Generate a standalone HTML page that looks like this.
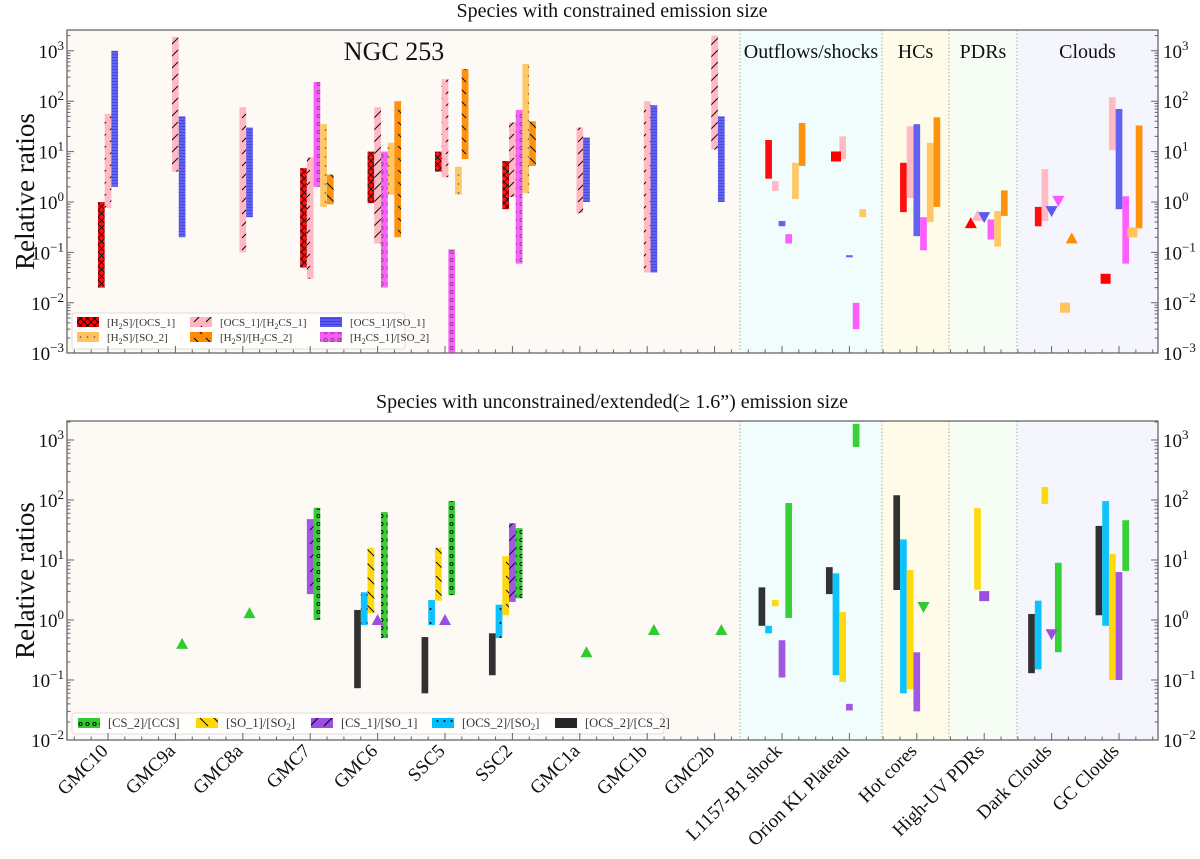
<!DOCTYPE html>
<html><head><meta charset="utf-8"><style>
html,body{margin:0;padding:0;background:#fff;}
svg{display:block;font-family:"Liberation Serif",serif;}
</style></head><body>
<svg id="chart" width="1200" height="859" viewBox="0 0 1200 859" xmlns="http://www.w3.org/2000/svg">
<defs>
<pattern id="p-red" patternUnits="userSpaceOnUse" width="7" height="7"><rect width="7" height="7" fill="#ff0000"/><path d="M0,0L7,7M7,0L0,7" stroke="#000" stroke-width="0.8"/></pattern>
<pattern id="p-pink" patternUnits="userSpaceOnUse" width="12" height="12"><rect width="12" height="12" fill="#ffb6c1"/><path d="M2,10L10,2" stroke="#000" stroke-width="1"/></pattern>
<pattern id="p-blue" patternUnits="userSpaceOnUse" width="4" height="3"><rect width="4" height="3" fill="#5a5af0"/><path d="M0,0.5H4" stroke="#3a3ad0" stroke-width="0.8"/></pattern>
<pattern id="p-mag" patternUnits="userSpaceOnUse" width="7" height="8"><rect width="7" height="8" fill="#ff55ff"/><circle cx="3.5" cy="4" r="1.6" fill="none" stroke="#555" stroke-width="0.8"/></pattern>
<pattern id="p-lo" patternUnits="userSpaceOnUse" width="7" height="9"><rect width="7" height="9" fill="#ffc45e"/><circle cx="3.5" cy="4" r="0.9" fill="#666"/></pattern>
<pattern id="p-or" patternUnits="userSpaceOnUse" width="12" height="12"><rect width="12" height="12" fill="#ff8c00"/><path d="M2,2L10,10" stroke="#000" stroke-width="1"/></pattern>
<pattern id="p-green" patternUnits="userSpaceOnUse" width="7" height="8"><rect width="7" height="8" fill="#2ecc2e"/><circle cx="3.5" cy="4" r="1.6" fill="none" stroke="#000" stroke-width="0.9"/></pattern>
<pattern id="p-yel" patternUnits="userSpaceOnUse" width="14" height="14"><rect width="14" height="14" fill="#ffd700"/><path d="M2,2L12,12" stroke="#000" stroke-width="1"/></pattern>
<pattern id="p-pur" patternUnits="userSpaceOnUse" width="14" height="14"><rect width="14" height="14" fill="#9b4fe0"/><path d="M2,12L12,2" stroke="#000" stroke-width="1"/></pattern>
<pattern id="p-cy" patternUnits="userSpaceOnUse" width="7" height="14"><rect width="7" height="14" fill="#00bfff"/><circle cx="3.5" cy="7" r="1" fill="#000"/></pattern>
</defs>
<g id="root"></g>
</svg>
<script>
const categories = ["GMC10","GMC9a","GMC8a","GMC7","GMC6","SSC5","SSC2","GMC1a","GMC1b","GMC2b","L1157-B1 shock","Orion KL Plateau","Hot cores","High-UV PDRs","Dark Clouds","GC Clouds"];
const N = null;
const h2sOcsLo  = [0.02,N,N,0.05,0.95,4,0.72,N,N,N,2.9,N,0.63,N,0.33,N];
const h2sOcsHi  = [1.0,N,N,4.7,10,10,6.5,N,N,N,17,N,6,N,0.8,N];
const ocsH2csLo = [0.76,4,0.1,0.03,0.15,3.1,1.25,0.6,0.04,11,1.65,7,1.2,N,0.42,10.7];
const ocsH2csHi = [56,1900,76,7.8,76,275,38,30,100,2000,2.6,20,32,N,4.5,120];
const ocsSoLo   = [2,0.2,0.5,N,N,N,N,1.0,0.04,1,0.33,0.08,0.21,N,N,0.72];
const ocsSoHi   = [1000,50,30,N,N,N,N,19,83,50,0.42,0.088,35,N,N,70];
const h2csSoLo  = [N,N,N,2,0.02,0.001,0.06,N,N,N,0.15,0.003,0.11,0.18,N,0.06];
const h2csSoHi  = [N,N,N,240,10,0.115,67,N,N,N,0.23,0.01,0.5,0.45,N,1.3];
const h2sSoLo   = [N,N,N,0.8,1.4,1.4,1.5,N,N,N,1.15,0.5,0.4,0.13,N,N];
const h2sSoHi   = [N,N,N,35,15,5,550,N,N,N,6,0.72,15,0.66,N,N];
const h2sH2csLo = [N,N,N,0.9,0.2,7.1,5.2,N,N,N,5.2,N,0.8,0.53,N,0.3];
const h2sH2csHi = [N,N,N,3.5,100,435,40,N,N,N,37,N,48,1.7,N,33];
const topMarkers = [["red",11,8,"sq"],["red",13,0.38,"up"],["pink",13,0.53,"up"],["blue",13,0.5,"down"],["blue",14,0.66,"down"],["mag",14,1.05,"down"],["or",14,0.19,"up"],["lo",14,0.008,"sq"],["red",15,0.03,"sq"],["lo",15,0.25,"sq"]];
const cs2CcsLo  = [N,N,N,1.0,0.5,2.6,2.3,N,N,N,1.08,765,N,N,0.29,6.6];
const cs2CcsHi  = [N,N,N,74,63,96,34,N,N,N,89,1860,N,N,9,46];
const so1So2Lo  = [N,N,N,N,1.3,2.1,1.2,N,N,N,1.7,0.093,0.07,3.2,86,0.1];
const so1So2Hi  = [N,N,N,N,16,16,11.6,N,N,N,2.15,1.36,6.8,73,165,12.6];
const cs1So1Lo  = [N,N,N,2.7,N,N,2.0,N,N,N,0.11,0.031,0.03,N,N,0.1];
const cs1So1Hi  = [N,N,N,48,N,N,41,N,N,N,0.46,0.04,0.29,N,N,6.3];
const ocs2So2Lo = [N,N,N,N,0.82,0.82,0.5,N,N,N,0.6,0.12,0.06,N,0.15,0.8];
const ocs2So2Hi = [N,N,N,N,2.9,2.15,1.8,N,N,N,0.8,6,22,N,2.1,96];
const ocs2Cs2Lo = [N,N,N,N,0.073,0.06,0.12,N,N,N,0.8,2.7,3.16,N,0.13,1.2];
const ocs2Cs2Hi = [N,N,N,N,1.47,0.52,0.6,N,N,N,3.5,7.6,120,N,1.26,37];
const botMarkers = [["green",1,0.4,"up"],["green",2,1.3,"up"],["green",7,0.29,"up"],["green",8,0.68,"up"],["green",9,0.68,"up"],["pur",4,1.0,"up"],["pur",5,1.0,"up"],["green",12,1.65,"down"],["pur",13,2.5,"sq"],["pur",14,0.58,"down"]];

const NS="http://www.w3.org/2000/svg";
const root=document.getElementById('root');
function mk(tag,attrs,parent){const e=document.createElementNS(NS,tag);for(const k in attrs)e.setAttribute(k,attrs[k]);(parent||root).appendChild(e);return e;}
const X0=67,X1=1158,W=6.7;
function xCat(i){return 108+67.4*i;}
const topP={y0:30,y1:353,yOne:202,dec:50.4};
const botP={y0:421,y1:740,yOne:620,dec:60};
function yv(p,v){return p.yOne-p.dec*Math.log10(v);}
const regions=[["NGC 253",X0,740,"#fdfaf6"],["Outflows/shocks",740,882,"#f1fdfd"],["HCs",882,949,"#fefce9"],["PDRs",949,1017,"#f5fdf4"],["Clouds",1017,X1,"#f5f5fd"]];
const topColors={red:"#ff0000",pink:"#ffb6c1",blue:"#5a5af0",mag:"#ff55ff",lo:"#ffc45e",or:"#ff8c00"};
const botColors={green:"#2ecc2e",yel:"#ffd700",pur:"#9b4fe0",cy:"#00bfff",blk:"#262626"};
const pat={red:"p-red",pink:"p-pink",blue:"p-blue",mag:"p-mag",lo:"p-lo",or:"p-or",green:"p-green",yel:"p-yel",pur:"p-pur",cy:"p-cy",blk:null};
const slotNGC={red:-1.5,pink:-0.5,blue:0.5,mag:0.5,lo:1.5,or:2.5};
const slotCmp={red:-2.5,pink:-1.5,blue:-0.5,mag:0.5,lo:1.5,or:2.5};
const slotBot={blk:-3.5,cy:-2.5,yel:-1.5,pur:-0.5,green:0.5};

function supText(parent,x,y,exp,anchor,name){
  const t=mk('text',{x:x,y:y,'font-size':19,'text-anchor':anchor,fill:'#111'},parent);
  
  
  t.appendChild(document.createTextNode('10'));
  const s=mk('tspan',{dy:-8,'font-size':13},t);s.textContent=exp;
  return t;
}

function drawPanel(p,key,title,labels){
  const g=mk('g',{});
  
  
  regions.forEach((r,i)=>{
    const rc=mk('rect',{x:r[1],y:p.y0,width:r[2]-r[1],height:p.y1-p.y0,fill:r[3]},g);
    
    
    if(i>0){const ln=mk('line',{x1:r[1],x2:r[1],y1:p.y0,y2:p.y1,stroke:'#aaa','stroke-dasharray':'1.5,2','stroke-width':1},g);
      
      }
    if(labels){
      const cx=i==0?394:(r[1]+r[2])/2;
      const t=mk('text',{x:cx,y:i==0?60:58,'font-size':i==0?26:20,'text-anchor':'middle',fill:'#111'},g);
      t.textContent=r[0];
      
      
    }
  });
  const tt=mk('text',{x:612,y:p.y0-13,'font-size':20,'text-anchor':'middle',fill:'#111'},g);
  tt.textContent=title;
  
  
  return g;
}

function drawAxes(p,key,decs,showX){
  const g=mk('g',{});
  
  
  const fr=mk('rect',{x:X0,y:p.y0,width:X1-X0,height:p.y1-p.y0,fill:'none',stroke:'#666','stroke-width':1.3},g);
  
  
  let d='';
  for(let e=decs[0];e<=decs[1]+1;e++){
    for(let m=1;m<10;m++){
      const v=Math.pow(10,e)*m;const y=yv(p,v);
      if(y<p.y0-0.1||y>p.y1+0.1)continue;
      const L=m==1?7:3.5;
      d+=`M${X0},${y}h${L}M${X1},${y}h${-L}`;
    }
  }
  for(let i=0;i<categories.length;i++){
    const x=xCat(i);d+=`M${x},${p.y1}v-7`;
    for(let k=1;k<4;k++){const xm=x+67.4*k/4;if(xm<X1)d+=`M${xm},${p.y1}v-3.5`;}
    for(let k=1;k<4;k++){const xm=x-67.4*k/4;if(xm>X0&&i==0)d+=`M${xm},${p.y1}v-3.5`;}
  }
  const tk=mk('path',{d:d,stroke:'#666','stroke-width':1,fill:'none'},g);
  
  
  for(let e=decs[0];e<=decs[1];e++){
    const y=yv(p,Math.pow(10,e))+7;
    const ex=e<0?'\u2212'+(-e):String(e);
    supText(g,64,y,ex,'end',key+'-ytick-left');
    supText(g,1163,y,ex,'start',key+'-ytick-right');
  }
  const yt=mk('text',{transform:`translate(34,${(p.y0+p.y1)/2}) rotate(-90)`,'font-size':27,'text-anchor':'middle',fill:'#111'},g);
  yt.textContent='Relative ratios';
  
  
  if(showX){
    categories.forEach((c,i)=>{
      const t=mk('text',{transform:`translate(${xCat(i)+1},${p.y1+12}) rotate(-45)`,'font-size':19,'text-anchor':'end',fill:'#111'},g);
      t.textContent=c;
      
      
    });
  }
}

function barFill(s,i,isTop){
  const ngc=i<10;
  if(ngc&&pat[s])return 'url(#'+pat[s]+')';
  return isTop?topColors[s]:botColors[s];
}
function drawSeries(p,g,s,lo,hi,isTop){
  for(let i=0;i<lo.length;i++){
    if(lo[i]==null||hi[i]==null)continue;
    const slot=isTop?(i<10?slotNGC[s]:slotCmp[s]):slotBot[s];
    const x=xCat(i)+slot*W;
    const y1=Math.max(yv(p,hi[i]),p.y0),y2=Math.min(yv(p,lo[i]),p.y1);
    const r=mk('rect',{x:x,y:y1,width:W,height:Math.max(y2-y1,1.5),fill:barFill(s,i,isTop),'fill-opacity':0.95},g);
    
    
  }
}
function drawMarkers(p,g,list,isTop){
  list.forEach(m=>{
    const s=m[0],i=m[1],v=m[2],sh=m[3];
    const slot=isTop?(i<10?slotNGC[s]:slotCmp[s]):slotBot[s];
    const cx=xCat(i)+slot*W+W/2,cy=yv(p,v);
    const col=isTop?topColors[s]:botColors[s];
    let e;
    if(sh=='sq')e=mk('rect',{x:cx-5,y:cy-5,width:10,height:10,fill:col},g);
    else if(sh=='up')e=mk('path',{d:`M${cx-6},${cy+5}L${cx+6},${cy+5}L${cx},${cy-6}Z`,fill:col},g);
    else e=mk('path',{d:`M${cx-6},${cy-5}L${cx+6},${cy-5}L${cx},${cy+6}Z`,fill:col},g);
    
    
  });
}
function legend(key,box,items,fs){
  const g=mk('g',{});
  
  
  const b=mk('rect',{x:box[0],y:box[1],width:box[2],height:box[3],rx:3,fill:'#fff','fill-opacity':0.8,stroke:'#ddd'},g);
  
  
  items.forEach(it=>{
    const sw=mk('rect',{x:it[1],y:it[2]-5,width:22,height:10,fill:it[0]},g);
    
    
    const t=mk('text',{x:it[1]+30,y:it[2]+4,'font-size':fs,fill:'#333'},g);
    t.innerHTML=it[3];
    
    
  });
}

drawPanel(topP,'top','Species with constrained emission size',true);
const gtb=mk('g',{});


drawSeries(topP,gtb,'red',h2sOcsLo,h2sOcsHi,true);
drawSeries(topP,gtb,'pink',ocsH2csLo,ocsH2csHi,true);
drawSeries(topP,gtb,'blue',ocsSoLo,ocsSoHi,true);
drawSeries(topP,gtb,'mag',h2csSoLo,h2csSoHi,true);
drawSeries(topP,gtb,'lo',h2sSoLo,h2sSoHi,true);
drawSeries(topP,gtb,'or',h2sH2csLo,h2sH2csHi,true);
drawMarkers(topP,gtb,topMarkers,true);
legend('top',[72,313,333,36],[
 ['url(#p-red)',77,322,'[H<tspan dy="3" font-size="8">2</tspan><tspan dy="-3">S]/[OCS_1]</tspan>'],
 ['url(#p-lo)',77,337,'[H<tspan dy="3" font-size="8">2</tspan><tspan dy="-3">S]/[SO_2]</tspan>'],
 ['url(#p-pink)',190,322,'[OCS_1]/[H<tspan dy="3" font-size="8">2</tspan><tspan dy="-3">CS_1]</tspan>'],
 ['url(#p-or)',190,337,'[H<tspan dy="3" font-size="8">2</tspan><tspan dy="-3">S]/[H</tspan><tspan dy="3" font-size="8">2</tspan><tspan dy="-3">CS_2]</tspan>'],
 ['url(#p-blue)',320,322,'[OCS_1]/[SO_1]'],
 ['url(#p-mag)',320,337,'[H<tspan dy="3" font-size="8">2</tspan><tspan dy="-3">CS_1]/[SO_2]</tspan>']
],11);
drawAxes(topP,'top',[-3,3],false);

drawPanel(botP,'bottom','Species with unconstrained/extended(\u2265 1.6\u201d) emission size',false);
const gbb=mk('g',{});


drawSeries(botP,gbb,'blk',ocs2Cs2Lo,ocs2Cs2Hi,false);
drawSeries(botP,gbb,'cy',ocs2So2Lo,ocs2So2Hi,false);
drawSeries(botP,gbb,'yel',so1So2Lo,so1So2Hi,false);
drawSeries(botP,gbb,'pur',cs1So1Lo,cs1So1Hi,false);
drawSeries(botP,gbb,'green',cs2CcsLo,cs2CcsHi,false);
drawMarkers(botP,gbb,botMarkers,false);
legend('bottom',[72,713,592,21],[
 ['url(#p-green)',78,723,'[CS_2]/[CCS]'],
 ['url(#p-yel)',196,723,'[SO_1]/[SO<tspan dy="3" font-size="9">2</tspan><tspan dy="-3">]</tspan>'],
 ['url(#p-pur)',311,723,'[CS_1]/[SO_1]'],
 ['url(#p-cy)',432,723,'[OCS_2]/[SO<tspan dy="3" font-size="9">2</tspan><tspan dy="-3">]</tspan>'],
 ['#262626',555,723,'[OCS_2]/[CS_2]']
],12.5);
drawAxes(botP,'bottom',[-2,3],true);
</script>
</body></html>
